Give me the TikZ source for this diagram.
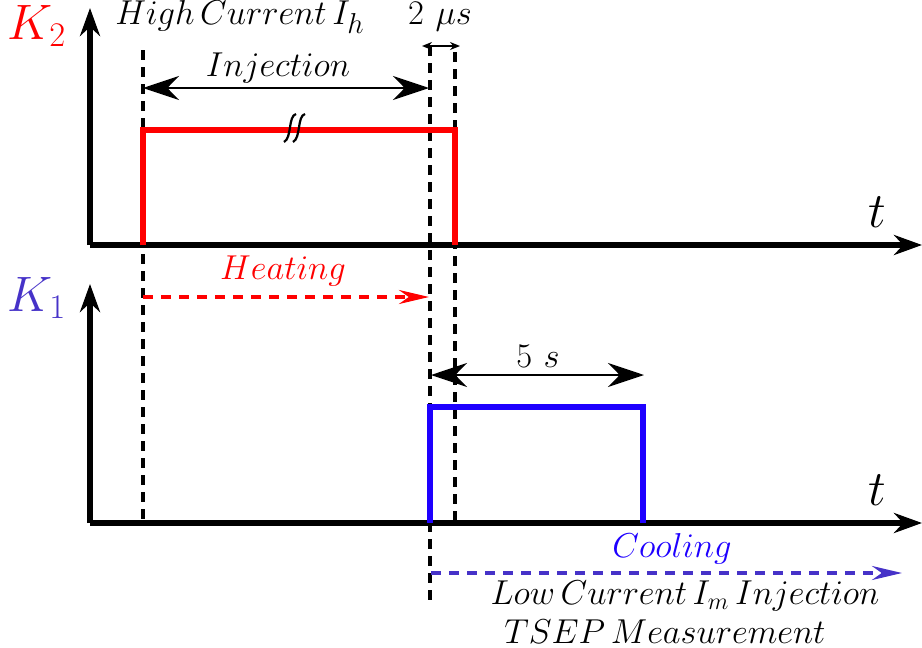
\documentclass[tikz,border=0pt]{standalone}
\usetikzlibrary{arrows.meta,positioning,calc}
\definecolor{kred}{RGB}{255,0,0}
\definecolor{kblue}{RGB}{30,0,255}
\definecolor{kviolet}{RGB}{70,50,200}
\tikzset{
  ax/.style    ={line width=2.6pt,-{Stealth[length=14pt,width=10pt]}},
  pulse/.style ={line width=2.6pt},
  guide/.style ={line width=1.8pt,dash pattern=on 5pt off 3.5pt},
  span/.style  ={line width=1pt,{Stealth[length=18pt,width=12pt]}-{Stealth[length=18pt,width=12pt]}},
  tiny/.style  ={line width=0.7pt,{Stealth[length=5pt,width=4pt]}-{Stealth[length=5pt,width=4pt]}},
  flow/.style  ={line width=1.6pt,dash pattern=on 5pt off 4pt,-{Stealth[length=15pt,width=7pt]}},
  brkln/.style ={line width=1.1pt},
  lbl/.style   ={font=\fontsize{19}{22}\selectfont,inner sep=0pt},
  note/.style  ={font=\fontsize{18.5}{22}\selectfont,inner sep=0pt},
  big/.style   ={font=\fontsize{25}{30}\selectfont,inner sep=1pt},
  axlbl/.style ={font=\fontsize{31}{36}\selectfont,inner sep=1pt},
}
\begin{document}
\begin{tikzpicture}[x=0.5pt,y=-0.5pt]
  \useasboundingbox (0,0) rectangle (922,648);
  % axes
  \coordinate (O2) at (90,245);  \coordinate (O1) at (90,523);
  \coordinate (Y2) at (90,8);    \coordinate (Y1) at (90,284);
  \coordinate (X2) at (922,245); \coordinate (X1) at (922,523);
  \draw[ax] (O2) -- (Y2);
  \draw[ax] (O2) -- (X2);
  \draw[ax] (O1) -- (Y1);
  \draw[ax] (O1) -- (X1);
  \node[big,text=kred]    (k2) at (37,26)  {$K_2$};
  \node[big,text=kviolet] (k1) at (37,298) {$K_1$};
  \node[axlbl] (t2) at (877,212) {$t$};
  \node[axlbl] (t1) at (877,490) {$t$};
  % time marks
  \coordinate (a0) at (143,50);  \coordinate (a1) at (143,523);
  \coordinate (b0) at (430,46);  \coordinate (b1) at (430,603);
  \coordinate (c0) at (455,52);  \coordinate (c1) at (455,523);
  \draw[guide] (a0) -- (a1);
  \draw[guide] (b0) -- (b1);
  \draw[guide] (c0) -- (c1);
  % K2 pulse
  \draw[pulse,kred] (143,245) |- (455,130) coordinate (p2) -- (455,245);
  \coordinate (brk) at (295,128);
  \draw[brkln] ($(brk)+(-11,14)$) .. controls ($(brk)+(-3,10)$) and ($(brk)+(-7,-12)$) .. ($(brk)+(1,-14)$);
  \draw[brkln] ($(brk)+(-2,14)$) .. controls ($(brk)+(6,10)$) and ($(brk)+(2,-12)$) .. ($(brk)+(10,-14)$);
  % K1 pulse
  \draw[pulse,kblue] (430,523) |- (643,407) -- (643,523);
  % spans
  \coordinate (i0) at (143,88); \coordinate (i1) at (429,88);
  \draw[span] (i0) -- (i1);
  \node[lbl] (inj) at (278,68) {$Injection$};
  \coordinate (u0) at (422,46); \coordinate (u1) at (460,46);
  \draw[tiny] (u0) -- (u1);
  \node[lbl] (us) at (440,17) {$2\ \mu s$};
  \node[lbl] (hc) at (240,17) {$High\,Current\,I_h$};
  \coordinate (f0) at (431,375); \coordinate (f1) at (644,375);
  \draw[span] (f0) -- (f1);
  \node[lbl] (fs) at (538,356) {$5\ s$};
  % phases
  \coordinate (h0) at (143,297); \coordinate (h1) at (429,297);
  \draw[flow,kred] (h0) -- (h1);
  \node[lbl,text=kred] (heat) at (283,271) {$Heating$};
  \coordinate (q0) at (431,573); \coordinate (q1) at (902,573);
  \draw[flow,kviolet] (q0) -- (q1);
  \node[lbl,text=kblue] (cool) at (672,549) {$Cooling$};
  \node[note] (low) at (685,596) {$Low\,Current\,I_m\,Injection$};
  \node[note] (tsep) at (665,632) {$TSEP\,Measurement$};
\end{tikzpicture}
\end{document}
